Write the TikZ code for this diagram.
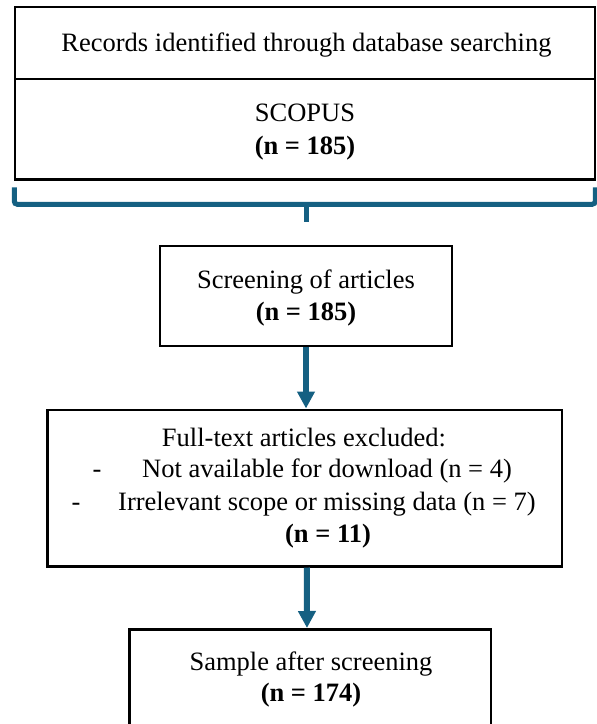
\documentclass[tikz,border=0pt]{standalone}
\usepackage{fontspec}
\setmainfont{Liberation Serif}
\usetikzlibrary{arrows.meta,calc}
\definecolor{flowblue}{RGB}{21,96,130}
\tikzset{
  box/.style={draw=black, line width=2.5pt, rectangle, inner sep=0pt},
  txt/.style={inner sep=0pt, anchor=base, font=\fontsize{26.5}{32.5}\selectfont},
  flow/.style={draw=flowblue, line width=6pt,
    -{Triangle[width=17pt,length=17pt]}},
  brace/.style={draw=flowblue, line width=5pt, rounded corners=3pt},
}
\begin{document}
\begin{tikzpicture}[x=1pt,y=-1pt]
\useasboundingbox (0,0) rectangle (597,724);
% identification block
\node[box, minimum width=580pt, minimum height=72pt] (head) at (305,43) {};
\node[box, minimum width=580pt, minimum height=100.5pt] (src) at (305,129.25) {};
\node[txt] (headtxt) at (306.5,51.5) {Records identified through database searching};
\node[txt] (srcname) at (305,121.5) {SCOPUS};
\node[txt] (srcnum) at (305,154) {\textbf{(n = 185)}};
% bracket gathering the sources
\coordinate (bl) at ($(src.south west)+(0.5,6.5)$);
\coordinate (br) at ($(src.south east)+(-1,6.5)$);
\coordinate (bm) at ($(src.south)+(1.5,23.5)$);
\path[brace] (bl) -- ($(bl)+(0,17)$) -- ($(br)+(0,17)$) -- (br);
\path[brace, rounded corners=0pt] ($(bm)+(0,-1)$) -- ($(bm)+(0,18)$);
% screening
\node[box, minimum width=292pt, minimum height=100pt] (screen) at (306,296) {};
\node[txt] (scrtxt) at (306,288.5) {Screening of articles};
\node[txt] (scrnum) at (306,320.5) {\textbf{(n = 185)}};
% exclusions
\node[box, minimum width=514.5pt, minimum height=156.5pt] (excl) at (304.75,488) {};
\node[txt] (exhead) at (304,446) {Full-text articles excluded:};
\node[txt] (dashA) at (97,477.5) {-};
\node[txt, anchor=base west] (exA) at (142,477.5) {Not available for download (n = 4)};
\node[txt] (dashB) at (76,510) {-};
\node[txt, anchor=base west] (exB) at (118,510) {Irrelevant scope or missing data (n = 7)};
\node[txt] (extot) at (328,542.5) {\textbf{(n = 11)}};
% final sample
\node[box, minimum width=361.5pt, minimum height=110pt, anchor=north] (sample) at (310,628) {};
\node[txt] (samtxt) at (311,670) {Sample after screening};
\node[txt] (samnum) at (311,701.5) {\textbf{(n = 174)}};
% connectors
\path[flow] (screen.south) -- (excl.north -| screen.south);
\path[flow] ($(excl.south)+(2,0)$) -- ($(sample.north)+(-3,0)$);
\end{tikzpicture}
\end{document}
